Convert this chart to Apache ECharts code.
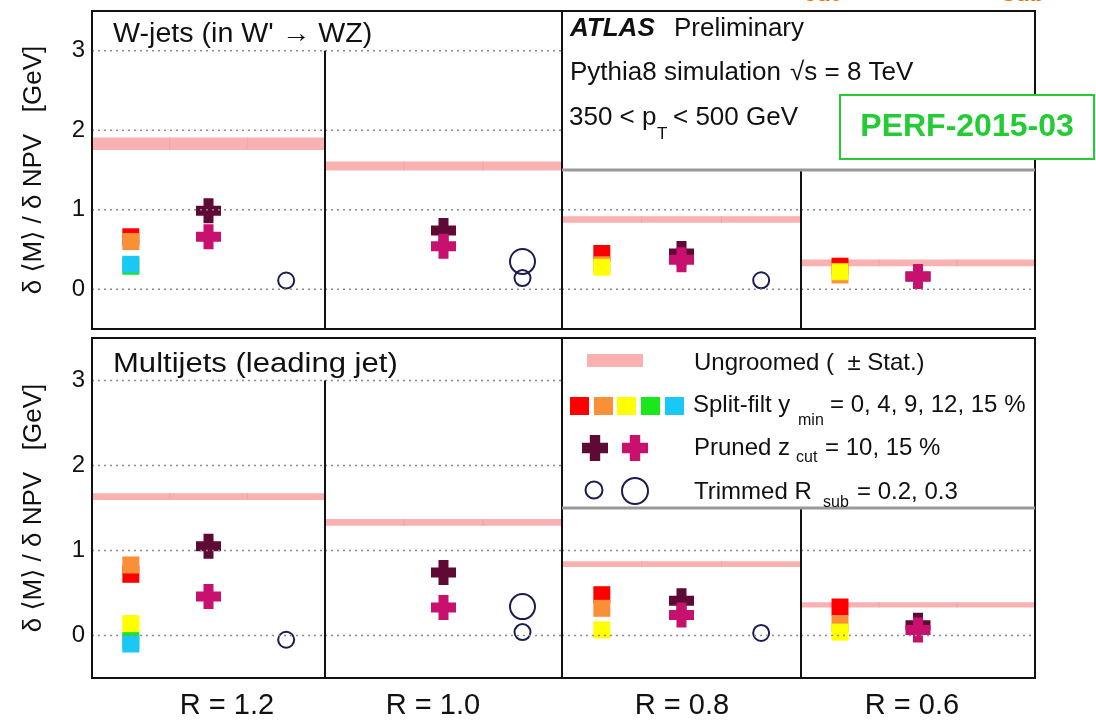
<!DOCTYPE html>
<html><head><meta charset="utf-8">
<script src="https://cdn.jsdelivr.net/npm/echarts@6/dist/echarts.min.js"></script>
<style>html,body{margin:0;padding:0;background:#fff}#c{width:1096px;height:720px}</style>
</head><body><div id="c"></div>
<script>
// ---------------- DATA ----------------
const rLabels = ['R = 1.2', 'R = 1.0', 'R = 0.8', 'R = 0.6'];
const yTicks = [0, 1, 2, 3];

// W-jets (in W' -> WZ)
const wjetUngroomed    = [1.83, 1.55, 0.877, 0.331];
const wjetUngroomedErr = [0.078, 0.057, 0.042, 0.042];
const wjetSF0  = [0.66, null, 0.45, 0.29];
const wjetSF4  = [0.60, null, 0.308, 0.18];
const wjetSF9  = [0.30, null, 0.277, 0.22];
const wjetSF12 = [0.289, null, null, null];
const wjetSF15 = [0.314, null, null, null];
const wjetPR10 = [0.987, 0.74, 0.45, 0.16];
const wjetPR15 = [0.66, 0.54, 0.37, 0.16];
const wjetTR02 = [0.11, 0.14, 0.113, null];
const wjetTR03 = [null, 0.35, null, null];

// Multijets (leading jet)
const mjUngroomed    = [1.635, 1.33, 0.84, 0.36];
const mjUngroomedErr = [0.04, 0.04, 0.035, 0.03];
const mjSF0  = [0.72, null, 0.48, 0.335];
const mjSF4  = [0.83, null, 0.32, 0.14];
const mjSF9  = [0.14, null, 0.065, 0.04];
const mjSF12 = [-0.06, null, null, null];
const mjSF15 = [-0.10, null, null, null];
const mjPR10 = [1.05, 0.74, 0.41, 0.12];
const mjPR15 = [0.46, 0.33, 0.24, 0.065];
const mjTR02 = [-0.05, 0.04, 0.03, null];
const mjTR03 = [null, 0.34, null, null];

// ---------------- STYLE / LAYOUT ----------------
const FONT = '"Liberation Sans", Arial, Helvetica, "DejaVu Sans", sans-serif';
const bandColor = '#f9b1b1';
const sfColors = ['#ff0000', '#f99038', '#ffff00', '#1be81b', '#19c8f5'];
const prColors = ['#5e0a35', '#c8106e'];
const trColor = '#1c1c50';
const crossPath = 'path://M3,0L7,0L7,3L10,3L10,7L7,7L7,10L3,10L3,7L0,7L0,3L3,3Z';

const secX = [92, 325, 562, 801, 1035];
const panelTop = [11, 338], panelBot = [329, 678];
const yMin = -0.5, yMax = 3.5;
function yPix(p, v) { return panelTop[p] + (yMax - v) / (yMax - yMin) * (panelBot[p] - panelTop[p]); }

const panels = [
  { ung: wjetUngroomed, err: wjetUngroomedErr, sf: [wjetSF0, wjetSF4, wjetSF9, wjetSF12, wjetSF15], pr: [wjetPR10, wjetPR15], tr: [wjetTR02, wjetTR03] },
  { ung: mjUngroomed, err: mjUngroomedErr, sf: [mjSF0, mjSF4, mjSF9, mjSF12, mjSF15], pr: [mjPR10, mjPR15], tr: [mjTR02, mjTR03] }
];
const yTitle = 'δ ⟨M⟩ / δ NPV   [GeV]';

const grid = [], xAxis = [], yAxis = [], series = [];
for (let p = 0; p < 2; p++) {
  for (let s = 0; s < 4; s++) {
    const idx = p * 4 + s;
    grid.push({ left: secX[s], top: panelTop[p], width: secX[s + 1] - secX[s], height: panelBot[p] - panelTop[p], show: false, containLabel: false, outerBoundsMode: 'none' });
    xAxis.push({ gridIndex: idx, type: 'value', min: 0, max: 3, show: false });
    yAxis.push({
      gridIndex: idx, type: 'value', min: yMin, max: yMax,
      axisLine: { show: false }, axisTick: { show: false }, splitLine: { show: false },
      axisLabel: { show: s === 0, customValues: yTicks, fontSize: 24, color: '#111', margin: 7, fontFamily: FONT },
      name: s === 0 ? yTitle : '', nameLocation: 'middle', nameGap: 45, nameRotate: 90,
      nameTextStyle: { fontSize: 26, color: '#111', fontFamily: FONT }
    });
    const P = panels[p];
    // Ungroomed band (+- stat), drawn as three bins across the section
    series.push({
      type: 'custom', xAxisIndex: idx, yAxisIndex: idx, z: 1, silent: true,
      data: [[1.5, P.ung[s], P.err[s]]], encode: { x: 0, y: 1 },
      renderItem: function (params, api) {
        const v = api.value(1), e = api.value(2);
        const ch = [];
        for (let b = 0; b < 3; b++) {
          const tl = api.coord([b, v + e]), br = api.coord([b + 1, v - e]);
          ch.push({ type: 'rect', shape: { x: tl[0], y: tl[1], width: br[0] - tl[0], height: br[1] - tl[1] }, style: { fill: bandColor } });
          if (b > 0) ch.push({ type: 'line', shape: { x1: tl[0], y1: tl[1], x2: tl[0], y2: br[1] }, style: { stroke: '#eea3a3', lineWidth: 1 } });
        }
        return { type: 'group', children: ch };
      }
    });
    // markers
    P.sf.forEach((arr, k) => series.push({
      type: 'scatter', xAxisIndex: idx, yAxisIndex: idx, z: 2, silent: true,
      symbol: 'rect', symbolSize: 17, itemStyle: { color: sfColors[k], opacity: 1 },
      data: arr[s] == null ? [] : [[0.5, arr[s]]]
    }));
    P.pr.forEach((arr, k) => series.push({
      type: 'scatter', xAxisIndex: idx, yAxisIndex: idx, z: 2, silent: true,
      symbol: crossPath, symbolSize: 25, itemStyle: { color: prColors[k], opacity: 1 },
      data: arr[s] == null ? [] : [[1.5, arr[s]]]
    }));
    P.tr.forEach((arr, k) => series.push({
      type: 'scatter', xAxisIndex: idx, yAxisIndex: idx, z: 2, silent: true,
      symbol: 'circle', symbolSize: k === 0 ? 16 : 25,
      itemStyle: { color: 'rgba(0,0,0,0)', borderColor: trColor, borderWidth: 2, opacity: 1 },
      data: arr[s] == null ? [] : [[2.5, arr[s]]]
    }));
    // dotted grid lines at integer values (drawn above markers as in the original)
    series.push({
      type: 'custom', xAxisIndex: idx, yAxisIndex: idx, z: 3, silent: true,
      data: yTicks.map(t => [0, t]), encode: { x: 0, y: 1 },
      renderItem: function (params, api) {
        const a = api.coord([0, api.value(1)]), b = api.coord([3, api.value(1)]);
        return { type: 'line', shape: { x1: a[0], y1: a[1], x2: b[0], y2: b[1] }, style: { stroke: '#8c8c8c', lineWidth: 1.6, lineDash: [2, 4] } };
      }
    });
  }
}

// ---------------- GRAPHICS (frames, boxes, texts, legend keys) ----------------
const g = [];
function txt(text, x, y, size, opts, scaleX) {
  g.push({ type: 'text', z: 20, x, y, scaleX: scaleX || 1, style: Object.assign({ text, x: 0, y: 0, fontSize: size, fontFamily: FONT, fill: '#111', align: 'left', verticalAlign: 'middle' }, opts || {}) });
}
function line(x1, y1, x2, y2, stroke, lw) {
  g.push({ type: 'line', z: 15, shape: { x1, y1, x2, y2 }, style: { stroke, lineWidth: lw } });
}
// white boxes for the info text (top) and legend (bottom)
g.push({ type: 'rect', z: 10, shape: { x: secX[2], y: panelTop[0], width: secX[4] - secX[2], height: 170 - panelTop[0] }, style: { fill: '#fff' } });
g.push({ type: 'rect', z: 10, shape: { x: secX[2], y: panelTop[1], width: secX[4] - secX[2], height: 508 - panelTop[1] }, style: { fill: '#fff' } });
// frames
for (let p = 0; p < 2; p++) {
  g.push({ type: 'rect', z: 15, shape: { x: secX[0], y: panelTop[p], width: secX[4] - secX[0], height: panelBot[p] - panelTop[p] }, style: { fill: 'none', stroke: '#111', lineWidth: 2 } });
  line(secX[1], yPix(p, 3), secX[1], panelBot[p], '#111', 2);
  line(secX[2], panelTop[p], secX[2], panelBot[p], '#111', 2);
}
line(secX[3], 170, secX[3], panelBot[0], '#111', 2);
line(secX[3], 508, secX[3], panelBot[1], '#111', 2);
line(secX[2], 170, secX[4], 170, '#999', 3);
line(secX[2], 508, secX[4], 508, '#999', 3);

// panel titles
txt("W-jets (in W' → WZ)", 113, 35, 27, null, 1.06);
txt('Multijets (leading jet)', 113, 365, 27, null, 1.15);
// info box
txt('ATLAS', 570, 29, 26, { fontWeight: 'bold', fontStyle: 'italic' });
txt('Preliminary', 674, 29, 26);
txt('Pythia8 simulation', 570, 73, 26);
txt('√s = 8 TeV', 790, 73, 26);
txt('350 < p', 569, 118, 26);
txt('T', 657, 134, 17);
txt('< 500 GeV', 673, 118, 26);
// PERF label
g.push({ type: 'rect', z: 25, shape: { x: 840, y: 95, width: 254, height: 64 }, style: { fill: '#fff', stroke: '#22cc33', lineWidth: 2 } });
txt('PERF-2015-03', 967, 127, 32, { fontWeight: 'bold', fill: '#22cc33', align: 'center' });
g[g.length - 1].z = 26;
// cut-off orange fragments at the very top
txt('cut', 803, -6, 24, { fontWeight: 'bold', fill: '#ff6a00' });
txt('sub', 1002, -6, 24, { fontWeight: 'bold', fill: '#ff6a00' });

// legend
g.push({ type: 'rect', z: 20, shape: { x: 587, y: 354, width: 56, height: 13 }, style: { fill: bandColor } });
txt('Ungroomed (  ± Stat.)', 694, 363, 24);
const sqX = [570, 594, 617, 641, 665];
sqX.forEach((x, k) => g.push({ type: 'rect', z: 20, shape: { x, y: 397, width: 19, height: 18 }, style: { fill: sfColors[k] } }));
txt('Split-filt y', 693, 405, 24);
txt('min', 798, 421, 16);
txt('= 0, 4, 9, 12, 15 %', 830, 405, 24);
function crossPts(cx, cy, size) {
  const h = size / 2, a = size / 5;
  return [[cx - a, cy - h], [cx + a, cy - h], [cx + a, cy - a], [cx + h, cy - a], [cx + h, cy + a], [cx + a, cy + a], [cx + a, cy + h], [cx - a, cy + h], [cx - a, cy + a], [cx - h, cy + a], [cx - h, cy - a], [cx - a, cy - a]];
}
g.push({ type: 'polygon', z: 20, shape: { points: crossPts(595, 448, 26) }, style: { fill: prColors[0] } });
g.push({ type: 'polygon', z: 20, shape: { points: crossPts(635, 448, 26) }, style: { fill: prColors[1] } });
txt('Pruned z', 694, 448, 24);
txt('cut', 796, 458, 16);
txt('= 10, 15 %', 825, 448, 24);
g.push({ type: 'circle', z: 20, shape: { cx: 594, cy: 490, r: 8.5 }, style: { fill: 'none', stroke: trColor, lineWidth: 2 } });
g.push({ type: 'circle', z: 20, shape: { cx: 635, cy: 491, r: 13 }, style: { fill: 'none', stroke: trColor, lineWidth: 2 } });
txt('Trimmed R', 694, 492, 24);
txt('sub', 823, 503, 16);
txt('= 0.2, 0.3', 857, 492, 24);

// section labels under the bottom panel
const rLabelX = [227, 433, 682, 912];
rLabels.forEach((t, i) => txt(t, rLabelX[i], 706, 29, { align: 'center' }));

const chart = echarts.init(document.getElementById('c'), null, { renderer: 'canvas' });
chart.setOption({
  animation: false,
  backgroundColor: '#fff',
  grid, xAxis, yAxis, series,
  graphic: { elements: g }
});
</script>
</body></html>
